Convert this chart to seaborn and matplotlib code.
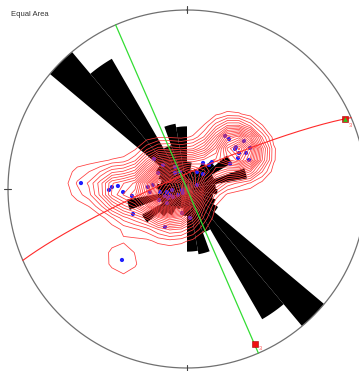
import numpy as np
import matplotlib
matplotlib.use("Agg")
import matplotlib.pyplot as plt
import seaborn as sns
import pandas as pd

# Poles to measured planes (trend / plunge, degrees, lower hemisphere)
pole_trend = [35.6, 40.0, 49.9, 49.4, 50.2, 56.9, 58.6, 55.3, 58.7, 64.9,
              59.8, 42.8, 31.6, 42.5, 30.5, 46.8, 312.3, 315.0, 331.4, 337.6,
              298.9, 323.1, 276.7, 272.9, 265.4, 263.7, 261.5, 266.2, 252.4, 250.6,
              240.3, 236.3, 258.7, 225.0, 235.0, 248.6, 191.8, 174.1, 210.1, 245.2,
              267.3, 272.5, 271.5, 269.3, 262.7, 273.2, 222.5, 68.2, 244.7]
pole_plunge = [60.1, 60.1, 55.8, 60.5, 61.4, 55.4, 58.3, 61.1, 62.7, 58.6,
               67.3, 73.3, 76.1, 75.2, 81.1, 80.1, 69.7, 74.6, 78.6, 81.7,
               75.0, 80.9, 74.4, 72.2, 73.1, 77.7, 80.8, 83.2, 79.5, 81.8,
               82.7, 85.1, 87.7, 87.4, 78.9, 76.3, 78.9, 76.8, 70.0, 62.8,
               60.7, 58.3, 55.5, 54.1, 64.7, 40.4, 45.3, 85.1, 80.5]

# Rose diagram of strikes: 10 degree bins over 0-180 (mirrored to 180-360),
# petal length relative to the largest bin
rose_bin_start = list(range(0, 180, 10))
rose_freq = [0.15, 0.11, 0.12, 0.17, 0.20, 0.29, 0.16, 0.34, 0.16,
             0.17, 0.15, 0.17, 0.20, 1.00, 0.84, 0.26, 0.37, 0.35]

# Mean plane, its pole and the reference section
plane_dipdir, plane_dip = 336.5, 83.5
pole_mark_trend, pole_mark_plunge = 156.5, 6.0
line_mark_trend, line_mark_plunge = 66.0, 4.0
section_trend = 156.5
mark_label = "3"


def project(trend, plunge):
    """Lambert equal-area projection, lower hemisphere, unit primitive."""
    t = np.radians(np.asarray(trend, float))
    p = np.radians(np.asarray(plunge, float))
    r = np.sqrt(2.0) * np.sin((np.pi / 2 - p) / 2)
    return r * np.sin(t), r * np.cos(t)


def to_vec(trend, plunge):
    t = np.radians(trend)
    p = np.radians(plunge)
    return np.stack([np.cos(p) * np.sin(t), np.cos(p) * np.cos(t), np.sin(p)], axis=-1)


sns.set_theme(style="white")
plt.rcParams["font.family"] = ["Liberation Sans", "DejaVu Sans"]

W, H = 359, 371
fig = plt.figure(figsize=(W / 100, H / 100), dpi=100)
ax = fig.add_axes([0, 0, 1, 1])
cx, cy, R = 187.0, 189.0, 179.0
ax.set_xlim(-cx / R, (W - cx) / R)
ax.set_ylim((cy - H) / R, cy / R)
ax.set_aspect("equal")
ax.axis("off")

# Primitive circle and cardinal ticks
a = np.linspace(0, 2 * np.pi, 721)
ax.plot(np.sin(a), np.cos(a), color="#707070", lw=0.9, zorder=5)
for az in (0, 90, 180, 270):
    s, c = np.sin(np.radians(az)), np.cos(np.radians(az))
    ax.plot([s * 0.985, s * 1.025], [c * 0.985, c * 1.025], color="#444444", lw=0.8, zorder=5)

# Rose petals (bidirectional)
for start, f in zip(rose_bin_start, rose_freq):
    for off in (0, 180):
        th = np.radians(np.linspace(start + off, start + off + 10, 12))
        xs = np.concatenate([[0], f * np.sin(th), [0]])
        ys = np.concatenate([[0], f * np.cos(th), [0]])
        ax.fill(xs, ys, color="black", lw=0, zorder=1)

# Density of poles (exponential kernel, axial) on a coarse grid
N = 32
g = np.linspace(-1.0, 1.0, N)
GX, GY = np.meshgrid(g, g)
GR = np.hypot(GX, GY)
inside = GR <= 1.0
theta = 2 * np.arcsin(np.clip(GR / np.sqrt(2), 0, 1))
g_plunge = 90 - np.degrees(theta)
g_trend = np.degrees(np.arctan2(GX, GY))
gv = to_vec(g_trend, g_plunge)
pv = to_vec(np.array(pole_trend), np.array(pole_plunge))
k = 80.0
cosang = np.abs(np.einsum("ijk,mk->ijm", gv, pv))
dens = np.exp(k * (cosang - 1)).sum(axis=-1)
dens[~inside] = 0.0
levels = np.arange(0.6, dens.max(), 0.4)

px, py = project(pole_trend, pole_plunge)
pts = pd.DataFrame({"x": px, "y": py})
sns.scatterplot(data=pts, x="x", y="y", ax=ax, s=9, color="#1f1fff",
                edgecolor="none", legend=False, zorder=3)

ax.contour(GX, GY, dens, levels=levels, colors="#ff3b3b", linewidths=0.55, zorder=4)

# Mean great circle
sdir = plane_dipdir - 90
sv = to_vec(np.array([sdir]), np.array([0.0]))[0]
dv = to_vec(np.array([plane_dipdir]), np.array([plane_dip]))[0]
tt = np.linspace(0, np.pi, 181)
v = np.cos(tt)[:, None] * sv + np.sin(tt)[:, None] * dv
gc_plunge = np.degrees(np.arcsin(np.clip(v[:, 2], -1, 1)))
gc_trend = np.degrees(np.arctan2(v[:, 0], v[:, 1]))
gx, gy = project(gc_trend, gc_plunge)
gc = pd.DataFrame({"x": gx, "y": gy})
sns.lineplot(data=gc, x="x", y="y", ax=ax, sort=False, estimator=None,
             color="#ff2a2a", lw=0.8, zorder=6)

# Vertical section line
sx, sy = project([section_trend + 180, section_trend], [0, 0])
sec = pd.DataFrame({"x": sx, "y": sy})
sns.lineplot(data=sec, x="x", y="y", ax=ax, sort=False, estimator=None,
             color="#33dd33", lw=0.9, zorder=8)

# Pole and line markers
mx, my = project([pole_mark_trend], [pole_mark_plunge])
ax.plot(mx, my, marker="s", ms=4.2, color="#ee1111", mec="#aa0000", mew=0.4, zorder=9, ls="none")
ax.text(mx[0] + 0.022, my[0] - 0.03, mark_label, color="#ff5555", fontsize=4, zorder=9)
lx, ly = project([line_mark_trend], [line_mark_plunge])
ax.plot(lx, ly, marker="s", ms=4.2, color="#ee1111", mec="#aa0000", mew=0.4, zorder=9, ls="none")
ax.plot(lx, ly, marker="^", ms=3.4, color="#22cc22", mew=0, zorder=10, ls="none")
ax.text(lx[0] + 0.02, ly[0] - 0.045, mark_label, color="#ff5555", fontsize=4, zorder=9)

fig.text(11 / W, 1 - 15 / H, "Equal Area", fontsize=5.5, color="#333333", va="center", ha="left")

fig.savefig("out.png", dpi=100, facecolor="white")
